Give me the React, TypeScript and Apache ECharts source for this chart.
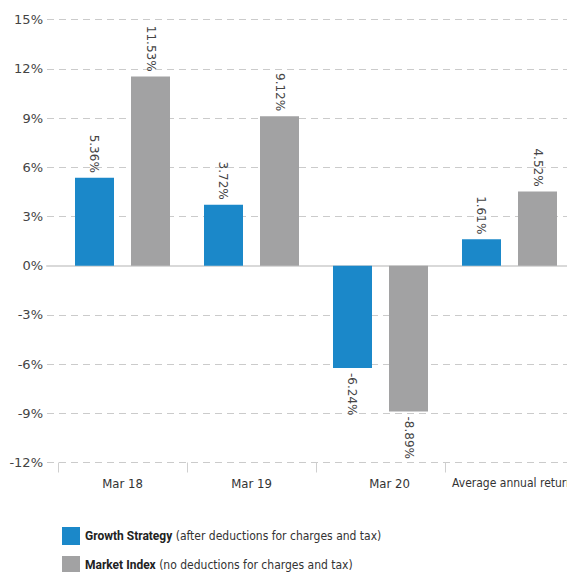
import React, { useEffect, useRef } from "react";
import * as echarts from "echarts";

const categories = ["Mar 18", "Mar 19", "Mar 20", "Average annual return"];
const growthValues = [5.36, 3.72, -6.24, 1.61];
const marketValues = [11.53, 9.12, -8.89, 4.52];
const seriesNames = ["Growth Strategy", "Market Index"];
const seriesNotes = ["(after deductions for charges and tax)", "(no deductions for charges and tax)"];
const yTicks = { min: -12, max: 15, interval: 3 };

const BLUE = "#1b88c9";
const GREY = "#a2a2a3";
const COND = "'DejaVu Sans Condensed', 'DejaVu Sans', sans-serif";

function toData(values: number[]) {
  return values.map((v) => ({
    value: v,
    label:
      v >= 0
        ? { position: "top", align: "right", verticalAlign: "middle" }
        : { position: "bottom", align: "left", verticalAlign: "middle" },
  }));
}

export default function App() {
  const ref = useRef<HTMLDivElement>(null);
  useEffect(() => {
    if (!ref.current) return;
    const chart = echarts.init(ref.current, null, { renderer: "svg" });
    const barLabel = {
      show: true,
      rotate: -90,
      distance: 5,
      fontSize: 12,
      fontFamily: "'DejaVu Sans', sans-serif",
      color: "#444",
      formatter: (p: any) => p.value.toFixed(2) + "%",
    };
    const legendText = {
      fontFamily: COND,
      fontSize: 12,
      color: "#333",
      rich: {
        b: { fontFamily: "Roboto, sans-serif", fontWeight: "bold", fontSize: 12, color: "#222" },
        n: { fontFamily: COND, fontSize: 12, color: "#333" },
      },
    };
    const legendFormatter = (name: string) => {
      const i = seriesNames.indexOf(name);
      return "{b|" + name + "} {n|" + seriesNotes[i] + "}";
    };
    const legendTops = [527, 556];
    chart.setOption({
      animation: false,
      grid: [
        { left: 47, width: 527, top: 19.7, bottom: 109.5, outerBoundsMode: "none", containLabel: false },
        { left: 58, width: 516, top: 19.7, bottom: 109.5, outerBoundsMode: "none", containLabel: false },
      ],
      legend: seriesNames.map((name, i) => ({
        orient: "vertical",
        left: 62,
        top: legendTops[i],
        padding: 0,
        itemWidth: 18,
        itemHeight: 18,
        icon: "rect",
        data: [name],
        textStyle: legendText,
        formatter: legendFormatter,
      })),
      xAxis: [
        {
          type: "category",
          gridIndex: 0,
          data: categories,
          axisLabel: { show: false },
          axisTick: { show: false },
          axisLine: { show: true, onZero: true, lineStyle: { color: "#d9d9d9", width: 2 } },
          splitLine: { show: false },
        },
        {
          type: "category",
          gridIndex: 1,
          data: categories,
          axisLine: { show: false, onZero: false },
          axisTick: { show: true, length: 10, lineStyle: { color: "#cfcfcf", width: 1 } },
          axisLabel: {
            interval: 0,
            margin: 14,
            fontFamily: COND,
            fontSize: 13,
            color: "#333",
            formatter: (v: string, idx: number) =>
              idx === 2 ? "{s|" + v + "}" : idx === 3 ? "{t|" + v + "}" : v,
            rich: {
              s: { fontFamily: COND, fontSize: 13, color: "#333", padding: [0, 0, 0, 18] },
              t: { fontFamily: COND, fontSize: 12, color: "#333", padding: [0, 0, 0, 6] },
            },
          },
        },
      ],
      yAxis: [
        {
          type: "value",
          gridIndex: 0,
          min: yTicks.min,
          max: yTicks.max,
          interval: yTicks.interval,
          axisLine: { show: false },
          axisTick: { show: false },
          axisLabel: {
            margin: 4,
            fontFamily: "'DejaVu Sans', sans-serif",
            fontSize: 13,
            color: "#444",
            formatter: (v: number) => v + "%",
          },
          splitLine: { show: true, lineStyle: { color: "#cbcbcb", type: [7, 5], width: 1 } },
        },
        {
          type: "value",
          gridIndex: 1,
          min: yTicks.min,
          max: yTicks.max,
          interval: yTicks.interval,
          show: false,
          splitLine: { show: false },
        },
      ],
      series: [
        {
          name: seriesNames[0],
          type: "bar",
          xAxisIndex: 1,
          yAxisIndex: 1,
          barWidth: 39,
          barGap: "43.6%",
          itemStyle: { color: BLUE },
          label: barLabel,
          data: toData(growthValues),
        },
        {
          name: seriesNames[1],
          type: "bar",
          xAxisIndex: 1,
          yAxisIndex: 1,
          barWidth: 39,
          barGap: "43.6%",
          itemStyle: { color: GREY },
          label: barLabel,
          data: toData(marketValues),
        },
      ],
    });
    return () => chart.dispose();
  }, []);
  return (
    <div
      ref={ref}
      style={{ position: "absolute", left: 0, top: 0, width: 567, height: 572, background: "#fff" }}
    />
  );
}
